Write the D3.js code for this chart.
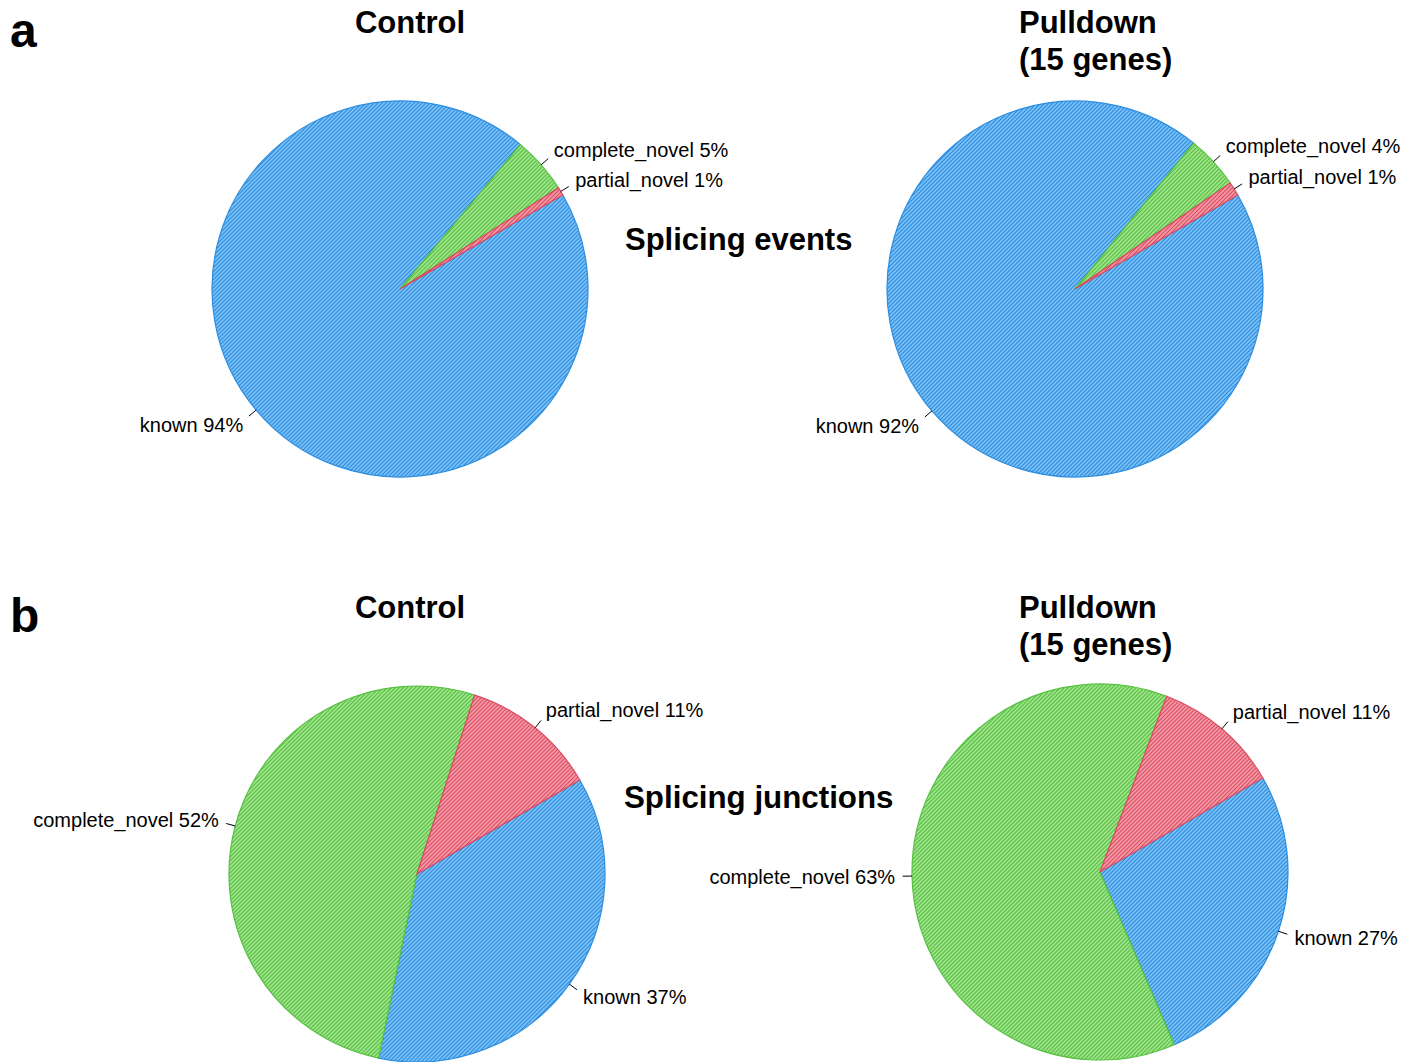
<!DOCTYPE html>
<html>
<head>
<meta charset="utf-8">
<script src="https://cdn.jsdelivr.net/npm/d3@7"></script>
<style>
  body { margin: 0; background: #fff; }
  text { font-family: "Liberation Sans", Arial, sans-serif; fill: #000; }
</style>
</head>
<body>
<div id="chart"></div>
<script>
const width = 1419, height = 1062;

// categories, drawn clockwise from 30 degrees (as in the figure)
const categories = ["known", "complete_novel", "partial_novel"];

// slice shares (%)
const eventsControl = [94.4, 4.9, 0.7];
const eventsPulldown = [94.2, 4.6, 1.2];
const junctionsControl = [36.6, 51.7, 11.7];
const junctionsPulldown = [26.9, 62.3, 10.9];

// percentages printed in the labels
const eventsControlPct = [94, 5, 1];
const eventsPulldownPct = [92, 4, 1];
const junctionsControlPct = [37, 52, 11];
const junctionsPulldownPct = [27, 63, 11];

const fills = {known: "#7cc0f5", complete_novel: "#a0e28c", partial_novel: "#f39aa6"};
const hatch = {known: "#2a8de0", complete_novel: "#55c140", partial_novel: "#dc4b61"};

let svg = d3.select("#chart")
	.append("svg")
	.attr("width", width)
	.attr("height", height);

// hatch patterns (diagonal, no rotation so tiles don't leave seams)
let defs = svg.append("defs");
categories.forEach(c => {
	let p = defs.append("pattern")
		.attr("id", "hatch_" + c)
		.attr("patternUnits", "userSpaceOnUse")
		.attr("x", 0).attr("y", 0)
		.attr("width", 4)
		.attr("height", 4);
	p.append("rect").attr("width", 4).attr("height", 4).style("fill", fills[c]);
	p.append("path")
		.attr("d", "M-1,1 l2,-2 M0,4 l4,-4 M3,5 l2,-2")
		.style("stroke", hatch[c])
		.style("stroke-width", 1.1);
});

const r = 188;
const pie = d3.pie().sort(null)
	.startAngle(Math.PI / 3)
	.endAngle(Math.PI / 3 + 2 * Math.PI);
const arc = d3.arc().innerRadius(0).outerRadius(r);

function drawPie(cx, cy, values, pcts) {
	let g = svg.append("g").attr("transform", "translate(" + cx + "," + cy + ")");
	let arcs = pie(values);

	g.selectAll("path")
		.data(arcs)
		.enter()
		.append("path")
		.attr("d", arc)
		.style("fill", (d, i) => "url(#hatch_" + categories[i] + ")")
		.style("stroke", (d, i) => hatch[categories[i]])
		.style("stroke-width", 1.2);

	arcs.forEach((d, i) => {
		let a = (d.startAngle + d.endAngle) / 2;
		let sx = Math.sin(a), sy = -Math.cos(a);
		g.append("line")
			.attr("x1", sx * r).attr("y1", sy * r)
			.attr("x2", sx * r * 1.05).attr("y2", sy * r * 1.05)
			.style("stroke", "#000")
			.style("stroke-width", 1);
		g.append("text")
			.attr("x", sx * r * 1.09)
			.attr("y", sy * r * 1.12)
			.attr("dy", "0.35em")
			.attr("text-anchor", sx > 0 ? "start" : "end")
			.style("font-size", "20px")
			.text(categories[i] + " " + pcts[i] + "%");
	});
}

drawPie(400, 289, eventsControl, eventsControlPct);
drawPie(1075, 289, eventsPulldown, eventsPulldownPct);
drawPie(417, 874, junctionsControl, junctionsControlPct);
drawPie(1100, 872, junctionsPulldown, junctionsPulldownPct);

// titles
function bold(x, y, txt, size, anchor) {
	svg.append("text")
		.attr("x", x).attr("y", y)
		.attr("text-anchor", anchor || "start")
		.style("font-size", size + "px")
		.style("font-weight", "bold")
		.text(txt);
}

bold(10, 47, "a", 48);
bold(10, 632, "b", 48);

bold(410, 33, "Control", 31, "middle");
bold(1019, 33, "Pulldown", 31);
bold(1019, 70, "(15 genes)", 31);
bold(625, 250, "Splicing events", 31);

bold(410, 618, "Control", 31, "middle");
bold(1019, 618, "Pulldown", 31);
bold(1019, 655, "(15 genes)", 31);
bold(624, 808, "Splicing junctions", 31.3);
</script>
</body>
</html>
